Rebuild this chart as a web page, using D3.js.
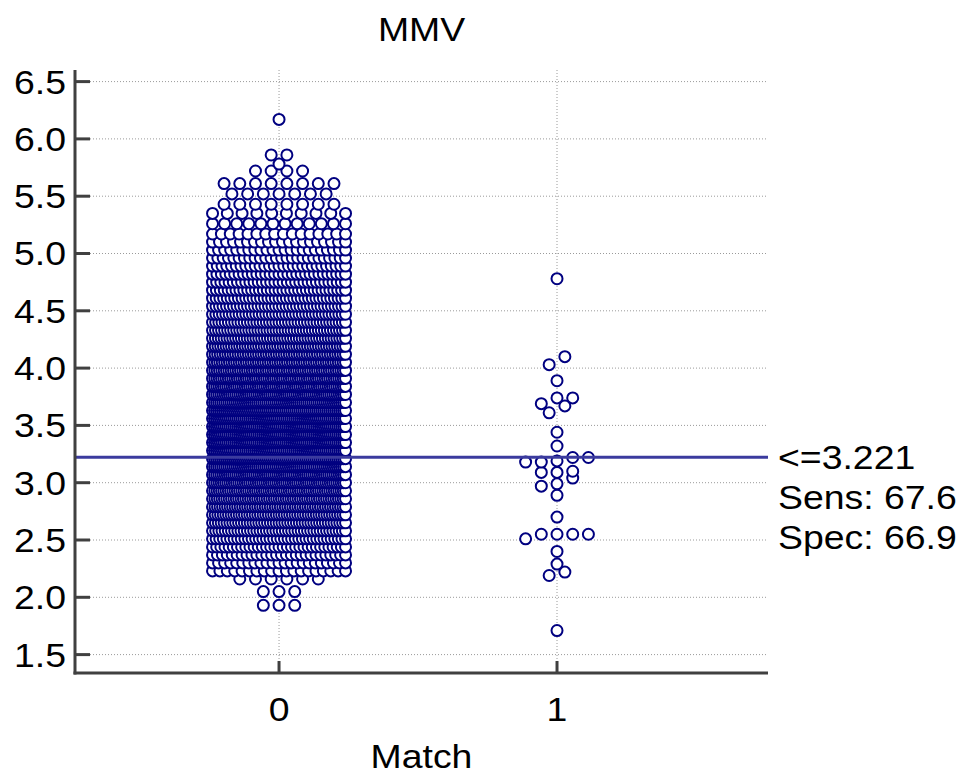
<!DOCTYPE html>
<html>
<head>
<meta charset="utf-8">
<script src="https://cdnjs.cloudflare.com/ajax/libs/d3/7.8.5/d3.min.js"></script>
<style>
    body { margin: 0; background: #fff; }
    .chart text { font-family: "Liberation Sans", Arial, sans-serif; font-size: 34px; fill: #000; }
    .grid line { stroke: #9a9a9a; stroke-width: 1; stroke-dasharray: 1,2; }
    .axis-line { stroke: #404040; stroke-width: 3; }
    .dot { fill: #fff; stroke: #000080; stroke-width: 2; }
</style>
</head>
<body>
<div class="chart"></div>
<script>
// DATA //
var chartTitle = 'MMV';
var xTitle = 'Match';
var categories = [0, 1];
var yTicks = [1.5, 2.0, 2.5, 3.0, 3.5, 4.0, 4.5, 5.0, 5.5, 6.0, 6.5];
var cutoff = 3.221;
var cutoffLabels = ['<=3.221', 'Sens: 67.6', 'Spec: 66.9'];

// Match = 0 : too many dots to read one by one, so each row is a value and how many dots sit in it
var noMatchRowValues = [1.93, 2.05, 2.16, 2.23, 2.30, 2.37, 2.44, 2.51, 2.58, 2.65, 2.72, 2.79, 2.86, 2.93,
    3.00, 3.07, 3.14, 3.21, 3.28, 3.35, 3.42, 3.49, 3.56, 3.63, 3.70, 3.77, 3.84, 3.91, 3.98, 4.05, 4.12,
    4.19, 4.26, 4.33, 4.40, 4.47, 4.54, 4.61, 4.68, 4.75, 4.82, 4.89, 4.96, 5.03, 5.10, 5.17, 5.26, 5.35,
    5.43, 5.52, 5.61, 5.72, 5.78, 5.86, 6.17];
var noMatchRowCounts = [3, 3, 6, 19, 23, 28, 33, 38, 43, 47, 51, 54, 57, 60,
    62, 64, 66, 68, 69, 70, 70, 70, 69, 68, 66, 64, 62, 60, 58, 56, 53,
    50, 47, 45, 43, 41, 39, 37, 35, 33, 31, 29, 26, 23, 20, 16, 12, 10,
    8, 7, 8, 4, 1, 2, 1];

// Match = 1 : every dot, grouped in the rows they are drawn in
var matchRows = [
    [1.71], [2.19, 2.22], [2.29], [2.40], [2.51, 2.55, 2.55, 2.55, 2.55], [2.70], [2.89],
    [2.97, 2.99, 3.04], [3.09, 3.09, 3.10], [3.18, 3.18, 3.19, 3.22, 3.22], [3.32], [3.44],
    [3.61, 3.67], [3.69, 3.74, 3.74], [3.89], [4.03, 4.10], [4.78]
];

// DEFINE LAYOUT //
var width = 963,
    height = 778,
    plot = { left: 75, right: 768, top: 70, bottom: 673 },
    dotRadius = 5.5,
    dotStep = 15.7,     // horizontal gap between dots of a row
    rowWidth = 133,     // widest spread of dot centres in a row
    textStretch = 1.1;

var svg = d3.select('.chart').append('svg')
    .attr('width', width)
    .attr('height', height);

svg.append('rect').attr('width', width).attr('height', height).attr('fill', '#fff');

var xScale = d3.scaleLinear().domain([-0.734, 1.759]).range([plot.left, plot.right]);
var yScale = d3.scaleLinear().domain([1.5, 6.5]).range([654.6, 81.6]);

function label(x, y, txt, anchor) {
    return svg.append('text')
        .attr('transform', 'translate(' + x + ',' + y + ') scale(' + textStretch + ',1)')
        .attr('text-anchor', anchor)
        .attr('dy', '0.35em')
        .text(txt);
}

// GRID //
var grid = svg.append('g').attr('class', 'grid');
grid.selectAll('.hgrid')
    .data(yTicks).enter()
    .append('line')
    .attr('x1', plot.left + 15).attr('x2', plot.right)
    .attr('y1', function(d) { return yScale(d); })
    .attr('y2', function(d) { return yScale(d); });
grid.selectAll('.vgrid')
    .data(categories).enter()
    .append('line')
    .attr('x1', function(d) { return xScale(d); })
    .attr('x2', function(d) { return xScale(d); })
    .attr('y1', plot.top).attr('y2', plot.bottom - 12);

// DOTS //
var points = [];
function addRow(cat, values) {
    var n = values.length,
        step = n > 1 ? Math.min(dotStep, rowWidth / (n - 1)) : 0;
    values.forEach(function(v, i) {
        points.push({ cat: cat, value: v, dx: (i - (n - 1) / 2) * step, order: i });
    });
}
noMatchRowValues.forEach(function(v, k) {
    addRow(0, d3.range(noMatchRowCounts[k]).map(function() { return v; }));
});
matchRows.forEach(function(row) { addRow(1, row); });

// lower values first, left to right inside a row
points.sort(function(a, b) { return a.value - b.value || a.order - b.order; });

svg.append('g').selectAll('circle')
    .data(points).enter()
    .append('circle')
    .attr('class', 'dot')
    .attr('cx', function(d) { return xScale(d.cat) + d.dx; })
    .attr('cy', function(d) { return yScale(d.value); })
    .attr('r', dotRadius);

// CUTOFF LINE //
svg.append('line')
    .attr('x1', plot.left).attr('x2', plot.right)
    .attr('y1', yScale(cutoff)).attr('y2', yScale(cutoff))
    .attr('stroke', '#3b3b9e')
    .attr('stroke-width', 3);

cutoffLabels.forEach(function(t, i) {
    label(778, yScale(cutoff) + i * 40, t, 'start');
});

// AXES //
svg.append('line').attr('class', 'axis-line')
    .attr('x1', plot.left).attr('x2', plot.left)
    .attr('y1', plot.top).attr('y2', plot.bottom + 1.5);
svg.append('line').attr('class', 'axis-line')
    .attr('x1', plot.left - 1.5).attr('x2', plot.right)
    .attr('y1', plot.bottom).attr('y2', plot.bottom);

svg.selectAll('.ytick')
    .data(yTicks).enter()
    .append('line')
    .attr('class', 'axis-line')
    .attr('x1', plot.left).attr('x2', plot.left + 15)
    .attr('y1', function(d) { return yScale(d); })
    .attr('y2', function(d) { return yScale(d); });
yTicks.forEach(function(d) {
    label(66, yScale(d), d3.format('.1f')(d), 'end');
});

svg.selectAll('.xtick')
    .data(categories).enter()
    .append('line')
    .attr('class', 'axis-line')
    .attr('x1', function(d) { return xScale(d); })
    .attr('x2', function(d) { return xScale(d); })
    .attr('y1', plot.bottom).attr('y2', plot.bottom - 12);
categories.forEach(function(d) {
    label(xScale(d), 709, d, 'middle');
});

// TITLES //
label((plot.left + plot.right) / 2, 29, chartTitle, 'middle');
label((plot.left + plot.right) / 2, 756, xTitle, 'middle');
</script>
</body>
</html>
